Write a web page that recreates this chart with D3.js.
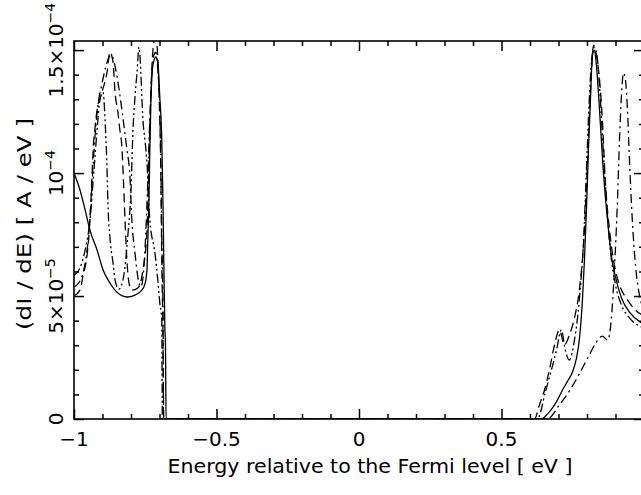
<!DOCTYPE html>
<html><head><meta charset="utf-8">
<script src="https://cdn.jsdelivr.net/npm/d3@7"></script>
<style>
body{margin:0;background:#fff}
svg{display:block}
text{font-family:"DejaVu Sans",sans-serif;fill:#000}
</style>
</head><body>
<svg id="chart" width="641" height="495"></svg>
<script>
// ---- axis ticks / labels ----
const xMajorTicks = [-1, -0.5, 0, 0.5, 1];
const xLabelTicks = [-1, -0.5, 0, 0.5];   // the label of 1 lies outside the picture
const xMajorLabels = ["\u22121", "\u22120.5", "0", "0.5"];
const xMinorTicks = [-0.9,-0.8,-0.7,-0.6,-0.4,-0.3,-0.2,-0.1,0.1,0.2,0.3,0.4,0.6,0.7,0.8,0.9];
const yMajorTicks = [0, 5e-5, 1e-4, 1.5e-4];
const yLabelBase = ["0", "5\u00d710", "10", "1.5\u00d710"];
const yLabelExp  = ["", "\u22125", "\u22124", "\u22124"];
const yMinorTicks = [1e-5,2e-5,3e-5,4e-5,6e-5,7e-5,8e-5,9e-5,1.1e-4,1.2e-4,1.3e-4,1.4e-4];
const xTitle = "Energy relative to the Fermi level [ eV ]";
const yTitle = "(dI / dE) [ A / eV ]";

// ---- series (energy in eV, dI/dE in units of 1e-5 A/eV) ----
const solidX = [-1.000,-0.979,-0.961,-0.944,-0.919,-0.898,-0.874,-0.846,-0.814,-0.786,-0.762,-0.751,-0.744,-0.741,-0.737,-0.734,-0.730,-0.723,-0.713,-0.706,-0.699,-0.692,-0.688,-0.685,-0.681,-0.679,-0.677,
  0.640,0.661,0.679,0.696,0.714,0.732,0.749,0.763,0.773,0.784,0.791,0.798,0.805,0.812,0.819,0.826,0.833,0.844,0.857,0.872,0.885,0.900,0.921,0.949,0.987,1.000];
const solidY = [10.0,9.31,8.50,7.68,6.87,6.06,5.53,5.12,4.96,5.04,5.24,5.49,6.06,7.28,8.90,10.93,12.97,14.39,14.72,14.51,13.09,11.34,8.90,6.46,3.62,3.0,0,
  0,0.20,0.45,0.77,1.18,1.54,1.91,2.48,3.21,4.84,6.46,8.50,10.93,12.97,14.80,15.00,14.39,12.56,10.12,8.09,6.67,5.77,4.92,4.35,3.94,3.85];

const dashX = [-1.000,-0.979,-0.968,-0.954,-0.944,-0.937,-0.933,-0.926,-0.919,-0.902,-0.884,-0.874,-0.863,-0.856,-0.846,-0.839,-0.832,-0.828,-0.821,-0.814,-0.807,-0.797,-0.776,-0.758,-0.744,-0.737,-0.730,-0.723,-0.716,-0.709,-0.702,-0.695,-0.692,-0.688,-0.685,
  0.616,0.633,0.651,0.668,0.686,0.703,0.721,0.738,0.756,0.773,0.791,0.805,0.816,0.823,0.833,0.844,0.854,0.864,0.879,0.896,0.914,0.942,0.970,1.000];
const dashY = [5.00,5.24,5.85,6.67,8.09,9.84,10.93,11.87,12.56,13.29,14.11,14.92,14.51,13.29,12.48,11.75,11.06,10.12,8.09,6.38,5.53,5.24,5.33,6.06,7.68,10.53,13.37,15.00,15.49,15.20,13.37,9.72,6.46,3.62,0,
  0,0.57,1.18,1.99,3.01,3.62,3.01,3.41,4.11,5.24,7.68,11.34,14.19,15.20,14.80,13.78,12.15,9.72,7.68,6.26,5.45,4.84,4.43,4.19];

const dashDotX = [-1.000,-0.986,-0.972,-0.958,-0.947,-0.940,-0.933,-0.926,-0.916,-0.902,-0.888,-0.870,-0.853,-0.839,-0.825,-0.814,-0.804,-0.797,-0.786,-0.776,-0.765,-0.751,-0.741,-0.734,-0.727,-0.720,-0.713,-0.706,-0.699,-0.695,-0.692,-0.688,-0.686,
  0.661,0.703,0.745,0.780,0.808,0.833,0.854,0.872,0.885,0.896,0.907,0.914,0.921,0.928,0.935,0.942,0.949,0.959,0.970,0.984,1.000];
const dashDotY = [5.37,5.49,5.81,6.54,7.68,8.90,10.33,11.54,12.76,13.62,14.35,14.80,14.19,13.17,11.95,10.93,9.92,8.09,6.75,5.77,5.37,6.87,9.72,12.15,13.98,14.80,14.92,14.19,12.56,10.12,7.28,4.84,0,
  0,0.57,1.26,1.99,2.60,3.13,3.37,3.21,4.02,6.06,8.90,11.34,13.17,14.07,13.78,12.56,10.53,8.09,6.26,5.04,4.43];

const dashDotDotX = [-1.000,-0.979,-0.961,-0.944,-0.930,-0.919,-0.909,-0.898,-0.891,-0.884,-0.881,-0.874,-0.863,-0.856,-0.842,-0.825,-0.811,-0.800,-0.793,-0.786,-0.779,-0.772,-0.765,-0.762,-0.758,-0.751,-0.744,-0.734,-0.716,-0.706,-0.699,-0.692,-0.690,
  0.626,0.654,0.675,0.693,0.710,0.724,0.738,0.756,0.773,0.788,0.798,0.808,0.816,0.826,0.837,0.847,0.857,0.868,0.882,0.900,0.921,0.949,1.000];
const dashDotDotY = [5.85,6.14,6.87,8.09,10.12,11.75,12.97,13.29,12.15,10.12,8.78,7.40,6.34,5.65,5.28,5.85,7.48,9.31,11.75,13.09,14.07,15.12,13.98,13.09,12.15,11.34,10.41,8.09,6.75,5.65,4.72,4.02,0,
  0,1.10,1.99,2.80,3.62,2.80,2.40,3.21,4.84,7.28,10.12,12.97,14.59,15.12,14.59,12.97,10.93,8.90,6.87,5.45,4.63,4.11,3.70];

const yUnit = 1e-5;

// ---- layout ----
const svg = d3.select("#chart");
const L = 74, R = 644, T = 41, B = 419;
const x = d3.scaleLinear().domain([-1, 1]).range([L, R]);
const y = d3.scaleLinear().domain([0, 1.537e-4]).range([B, T]);

svg.append("defs").append("clipPath").attr("id","plotclip")
  .append("rect").attr("x", L).attr("y", T).attr("width", R - L).attr("height", B - T);

// curves
const series = [
  {xs: solidX, ys: solidY, dash: null},
  {xs: dashX, ys: dashY, dash: "9,5"},
  {xs: dashDotX, ys: dashDotY, dash: "9,4,2,4"},
  {xs: dashDotDotX, ys: dashDotDotY, dash: "9,3,2,3,2,3"}
];
const line = d3.line().x(d => x(d[0])).y(d => y(d[1] * yUnit)).curve(d3.curveMonotoneX);
const gCurves = svg.append("g").attr("clip-path", "url(#plotclip)");
series.forEach(s => {
  const pts = s.xs.map((v, i) => [v, s.ys[i]]);
  gCurves.append("path").datum(pts)
    .attr("d", line)
    .attr("fill", "none")
    .attr("stroke", "#000")
    .attr("stroke-width", 1.3)
    .attr("stroke-dasharray", s.dash);
});

// axes ticks (inward)
function tickAxis(axis, tr) {
  const g = svg.append("g").attr("transform", tr).call(axis);
  g.select(".domain").remove();
  g.selectAll(".tick line").attr("stroke", "#000").attr("stroke-width", 1.5);
  g.selectAll(".tick text").remove();
  return g;
}
tickAxis(d3.axisBottom(x).tickValues(xMajorTicks).tickSize(-10).tickFormat(""), `translate(0,${B})`);
tickAxis(d3.axisBottom(x).tickValues(xMinorTicks).tickSize(-5).tickFormat(""), `translate(0,${B})`);
tickAxis(d3.axisTop(x).tickValues(xMajorTicks).tickSize(-10).tickFormat(""), `translate(0,${T})`);
tickAxis(d3.axisTop(x).tickValues(xMinorTicks).tickSize(-5).tickFormat(""), `translate(0,${T})`);
tickAxis(d3.axisLeft(y).tickValues(yMajorTicks).tickSize(-10).tickFormat(""), `translate(${L},0)`);
tickAxis(d3.axisLeft(y).tickValues(yMinorTicks).tickSize(-5).tickFormat(""), `translate(${L},0)`);
tickAxis(d3.axisRight(y).tickValues(yMajorTicks).tickSize(-10).tickFormat(""), `translate(${R},0)`);
tickAxis(d3.axisRight(y).tickValues(yMinorTicks).tickSize(-5).tickFormat(""), `translate(${R},0)`);

// frame
svg.append("rect").attr("x", L).attr("y", T).attr("width", R - L).attr("height", B - T)
  .attr("fill", "none").attr("stroke", "#000").attr("stroke-width", 1.6);

// x tick labels
svg.append("g").selectAll("text").data(xLabelTicks).join("text")
  .attr("x", d => x(d)).attr("y", 446)
  .attr("text-anchor", "middle").attr("font-size", 20)
  .text((d, i) => xMajorLabels[i]);

// y tick labels (rotated)
const gy = svg.append("g");
yMajorTicks.forEach((v, i) => {
  const t = gy.append("text")
    .attr("transform", `translate(63,${y(v)}) rotate(-90)`)
    .attr("text-anchor", "middle").attr("font-size", 20);
  t.append("tspan").text(yLabelBase[i]);
  if (yLabelExp[i]) t.append("tspan").attr("dy", -8).attr("font-size", 14).text(yLabelExp[i]);
});

// titles
svg.append("text").attr("x", 370).attr("y", 473)
  .attr("text-anchor", "middle").attr("font-size", 20)
  .attr("textLength", 405).attr("lengthAdjust", "spacingAndGlyphs")
  .text(xTitle);
svg.append("text").attr("transform", "translate(31,224) rotate(-90)")
  .attr("text-anchor", "middle").attr("font-size", 20)
  .attr("textLength", 212).attr("lengthAdjust", "spacingAndGlyphs")
  .text(yTitle);
</script>
</body></html>
